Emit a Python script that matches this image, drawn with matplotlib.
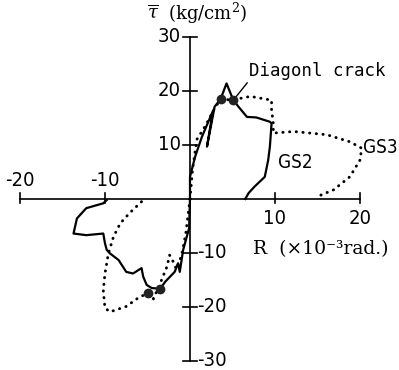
import matplotlib
matplotlib.use('Agg')
import matplotlib.pyplot as plt

# GS2 envelope (solid), positive and negative loading
gs2_pos_x = [0, 0.0, 0.6, 1.4, 2.7, 2.0, 2.9, 3.6, 4.3, 5.1, 5.7, 6.7, 7.8, 9.4, 9.6, 9.4, 9.2, 8.8, 7.6, 6.9, 6.5]
gs2_pos_y = [0, 4.1, 7.8, 11.5, 16.3, 9.7, 17.1, 18.5, 21.4, 18.3, 17.1, 15.2, 15.1, 14.3, 14.0, 9.7, 7.2, 4.1, 2.3, 1.1, 0.0]
gs2_neg_x = [-9.8, -10.2, -12.2, -13.3, -13.7, -12.2, -10.2, -10.0, -9.8, -9.4, -8.4, -7.5, -6.7, -5.7, -5.5,
             -5.1, -4.5, -3.5, -2.9, -1.8, -1.4, -1.2, -0.8, -0.1, 0]
gs2_neg_y = [-0.2, -0.8, -1.7, -3.6, -6.4, -6.7, -6.4, -8.2, -9.4, -10.1, -11.3, -13.5, -13.8, -12.8, -14.4,
             -15.9, -16.5, -16.6, -15.3, -13.5, -11.9, -13.5, -9.4, -5.4, 0]

# GS3 envelope (dotted)
gs3_pos_x = [0, 0.3, 0.8, 1.8, 2.8, 3.6, 5.1, 5.5, 7.1, 9.6, 9.6, 9.8, 9.8, 12.2, 16.1, 18.8, 20.2, 20.0, 18.8, 16.9, 14.9]
gs3_pos_y = [0, 5.4, 11.0, 13.5, 16.5, 18.5, 18.3, 18.5, 19.0, 18.3, 16.5, 14.0, 12.2, 12.5, 11.9, 10.6, 9.4, 7.2, 4.1, 1.7, 0.4]
gs3_neg_x = [-5.7, -7.1, -8.2, -9.0, -9.6, -10.0, -10.2, -10.0, -9.4, -7.5, -5.9, -4.9, -4.3, -3.5, -2.7, -2.4,
             -2.2, -1.6, -1.0, -0.5, 0]
gs3_neg_y = [-0.5, -2.6, -4.5, -7.0, -10.1, -13.8, -16.9, -20.2, -20.9, -19.9, -18.1, -17.5, -18.5, -15.6, -12.5, -10.4,
             -10.8, -13.0, -10.5, -6.5, 0]

# diagonal crack points
crack_x = [3.6, 5.1, -4.9, -3.5]
crack_y = [18.5, 18.3, -17.5, -16.6]

x_ticks = [-20, -10, 10, 20]
y_ticks = [-30, -20, -10, 10, 20, 30]

num_font = dict(family='DejaVu Sans', stretch='condensed')
plt.rcParams['mathtext.fontset'] = 'dejavuserif'

fig = plt.figure(figsize=(3.99, 3.70), dpi=100)
ax = fig.add_axes([0, 0, 1, 1])
ax.set_xlim(-22.35, 24.59)
ax.set_ylim(-31.67, 36.85)
ax.axis('off')

# axes drawn through the origin
ax.plot([x_ticks[0], x_ticks[-1]], [0, 0], color='black', lw=1.2)
ax.plot([0, 0], [y_ticks[0], y_ticks[-1]], color='black', lw=1.2)
for t in x_ticks:
    ax.plot([t, t], [-0.8, 1.2], color='black', lw=1.2)
    if t < 0:
        ax.text(t, 1.6, str(t), ha='center', va='bottom', fontsize=14.5, **num_font)
    else:
        ax.text(t, -1.8, str(t), ha='center', va='top', fontsize=14.5, **num_font)
for t in y_ticks:
    ax.plot([-0.8, 0.8], [t, t], color='black', lw=1.2)
    if t > 0:
        ax.text(-1.1, t, str(t), ha='right', va='center', fontsize=14.5, **num_font)
    else:
        ax.text(0.8, t, str(t), ha='left', va='center', fontsize=14.5, **num_font)

dots = (0, (0.1, 2.2))
ax.plot(gs2_pos_x, gs2_pos_y, color='black', lw=1.6)
ax.plot(gs2_neg_x, gs2_neg_y, color='black', lw=1.6)
ax.plot(gs3_pos_x, gs3_pos_y, color='black', lw=2.1, linestyle=dots, dash_capstyle='round')
ax.plot(gs3_neg_x, gs3_neg_y, color='black', lw=2.1, linestyle=dots, dash_capstyle='round')
ax.plot(crack_x, crack_y, 'o', color='#222222', markersize=6, zorder=5)

ax.annotate('Diagonl crack', xy=(crack_x[1], crack_y[1]), xytext=(7.0, 23.7),
            ha='left', va='center', fontsize=12.5, family='DejaVu Sans Mono',
            arrowprops=dict(arrowstyle='-', lw=1, color='black', shrinkA=0, shrinkB=3, relpos=(0, 0)))

ax.text(10.4, 6.7, 'GS2', ha='left', va='center', fontsize=13.5, **num_font)
ax.text(20.3, 9.6, 'GS3', ha='left', va='center', fontsize=13.5, **num_font)

ax.text(-5.1, 34.4, r'$\overline{\tau}$  (kg/cm$^2$)', ha='left', va='center', fontsize=13, family='DejaVu Serif')
ax.text(7.4, -9.3, 'R  (×10⁻³rad.)', ha='left', va='center', fontsize=13.5, family='DejaVu Serif')

fig.savefig('out.png', dpi=100)
